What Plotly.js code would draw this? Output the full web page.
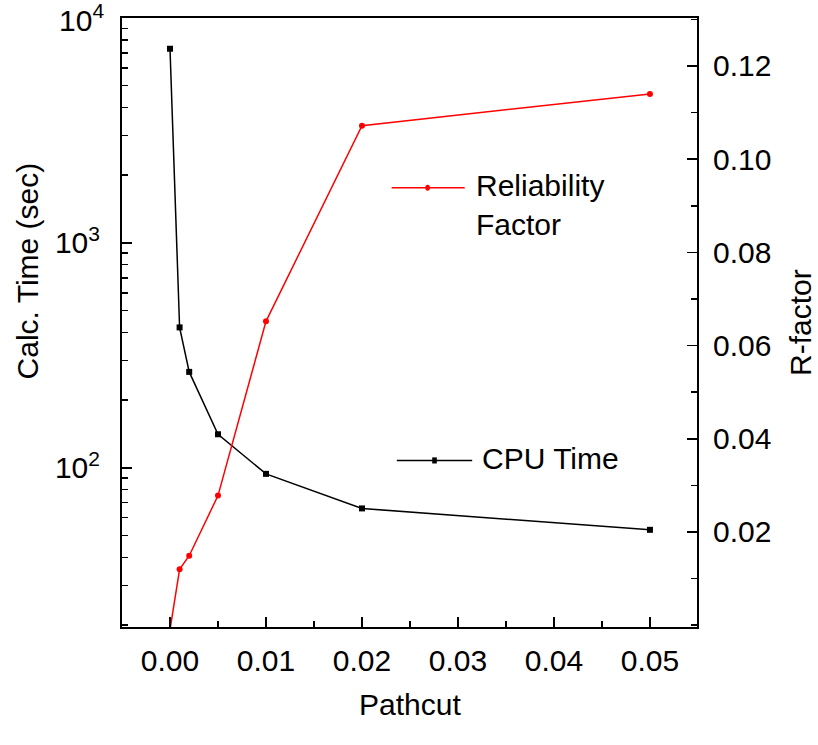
<!DOCTYPE html>
<html>
<head>
<meta charset="utf-8">
<script src="https://cdn.plot.ly/plotly-3.0.1.min.js"></script>
<style>
html,body{margin:0;padding:0;background:#fff;}
#chart{width:818px;height:745px;}
</style>
</head>
<body>
<div id="chart"></div>
<script>
// Data
const pathcut = [0.0, 0.001, 0.002, 0.005, 0.01, 0.02, 0.05];
const cpuTime = [7300, 421, 267, 141, 94, 66, 53];
const rPathcut = [0.0, 0.001, 0.002, 0.005, 0.01, 0.02, 0.05];
const rFactor = [-0.001, 0.012, 0.0149, 0.0278, 0.0652, 0.1072, 0.114];

const xTickVals = [0, 0.01, 0.02, 0.03, 0.04, 0.05];
const yTickVals = [100, 1000];
const yTickText = ['10<sup>2</sup>', '10<sup>3</sup>'];
const yTopTickText = '10<sup>4</sup>';
const yMinorVals = [20,30,40,50,60,70,80,90,200,300,400,500,600,700,800,900,2000,3000,4000,5000,6000,7000,8000,9000];
const y2TickVals = [0.02, 0.04, 0.06, 0.08, 0.10, 0.12];

const FONT = 'Liberation Sans, Arial, sans-serif';
const FS = 30;

const traces = [
  {
    x: pathcut, y: cpuTime, type: 'scatter', mode: 'lines+markers',
    name: 'CPU Time', yaxis: 'y', showlegend: false,
    line: {color: '#000000', width: 1.5},
    marker: {symbol: 'square', size: 6, color: '#000000'}
  },
  {
    x: rPathcut, y: rFactor, type: 'scatter', mode: 'lines+markers',
    name: 'Reliability Factor', yaxis: 'y2', showlegend: false,
    line: {color: '#ff0000', width: 1.5},
    marker: {symbol: 'circle', size: 6, color: '#ff0000'}
  }
];

const layout = {
  width: 818, height: 745,
  margin: {l: 122, r: 121, t: 18, b: 118, pad: 0},
  paper_bgcolor: '#ffffff', plot_bgcolor: '#ffffff',
  font: {family: FONT, size: FS, color: '#000000'},
  showlegend: false,
  xaxis: {
    range: [-0.005, 0.0549],
    tickmode: 'array', tickvals: xTickVals, tickformat: '.2f',
    ticks: 'inside', ticklen: 10, tickwidth: 1.5, tickcolor: '#000',
    minor: {dtick: 0.005, tick0: 0, ticks: 'inside', ticklen: 6, tickwidth: 1.5, tickcolor: '#000'},
    showline: true, linecolor: '#000', linewidth: 2, mirror: true,
    showgrid: false, zeroline: false,
    ticklabelstandoff: 6,
    tickfont: {family: FONT, size: FS, color: '#000'}
  },
  yaxis: {
    type: 'log',
    range: [Math.log10(19.6), 4.0],
    tickmode: 'array', tickvals: yTickVals, ticktext: yTickText,
    ticks: 'inside', ticklen: 10, tickwidth: 1.5, tickcolor: '#000',
    minor: {tickmode: 'array', tickvals: yMinorVals, ticks: 'inside', ticklen: 6, tickwidth: 1.5, tickcolor: '#000'},
    showline: true, linecolor: '#000', linewidth: 2,
    showgrid: false, zeroline: false,
    ticklabelstandoff: 14,
    tickfont: {family: FONT, size: FS, color: '#000'}
  },
  yaxis2: {
    overlaying: 'y', side: 'right',
    range: [-0.0004, 0.1303],
    tickmode: 'array', tickvals: y2TickVals, tickformat: '.2f',
    ticks: 'inside', ticklen: 10, tickwidth: 1.5, tickcolor: '#000',
    minor: {dtick: 0.01, tick0: 0, ticks: 'inside', ticklen: 6, tickwidth: 1.5, tickcolor: '#000'},
    showline: true, linecolor: '#000', linewidth: 2,
    showgrid: false, zeroline: false,
    ticklabelstandoff: 8,
    tickfont: {family: FONT, size: FS, color: '#000'}
  },
  annotations: [
    {text: yTopTickText, xref: 'paper', yref: 'y', x: 0, y: 4, xshift: -16,
     xanchor: 'right', yanchor: 'middle', showarrow: false, font: {family: FONT, size: FS}},
    {text: 'Pathcut', xref: 'paper', yref: 'paper', x: 0.5, y: -0.128,
     xanchor: 'center', yanchor: 'middle', showarrow: false, font: {family: FONT, size: FS}},
    {text: 'Calc. Time (sec)', xref: 'paper', yref: 'paper', x: -0.165, y: 0.584,
     xanchor: 'center', yanchor: 'middle', textangle: -90, showarrow: false, font: {family: FONT, size: FS}},
    {text: 'R-factor', xref: 'paper', yref: 'paper', x: 1.18, y: 0.50,
     xanchor: 'center', yanchor: 'middle', textangle: -90, showarrow: false, font: {family: FONT, size: FS}},
    {text: 'Reliability<br>Factor', xref: 'paper', yref: 'paper', x: 0.612, y: 0.693,
     xanchor: 'left', yanchor: 'middle', align: 'left', showarrow: false, font: {family: FONT, size: FS}},
    {text: 'CPU Time', xref: 'paper', yref: 'paper', x: 0.622, y: 0.276,
     xanchor: 'left', yanchor: 'middle', align: 'left', showarrow: false, font: {family: FONT, size: FS}}
  ],
  shapes: [
    // legend sample: Reliability Factor
    {type: 'line', xref: 'paper', yref: 'paper', x0: 0.469, x1: 0.596, y0: 0.7213, y1: 0.7213,
     line: {color: '#ff0000', width: 1.5}},
    {type: 'circle', xref: 'paper', yref: 'paper', x0: 0.5275, x1: 0.5355, y0: 0.7163, y1: 0.7263,
     fillcolor: '#ff0000', line: {color: '#ff0000', width: 0}},
    // legend sample: CPU Time
    {type: 'line', xref: 'paper', yref: 'paper', x0: 0.478, x1: 0.609, y0: 0.2735, y1: 0.2735,
     line: {color: '#000000', width: 1.5}},
    {type: 'rect', xref: 'paper', yref: 'paper', x0: 0.5395, x1: 0.5475, y0: 0.2685, y1: 0.2785,
     fillcolor: '#000000', line: {color: '#000000', width: 0}}
  ]
};

Plotly.newPlot('chart', traces, layout, {displayModeBar: false, staticPlot: true});
</script>
</body>
</html>
